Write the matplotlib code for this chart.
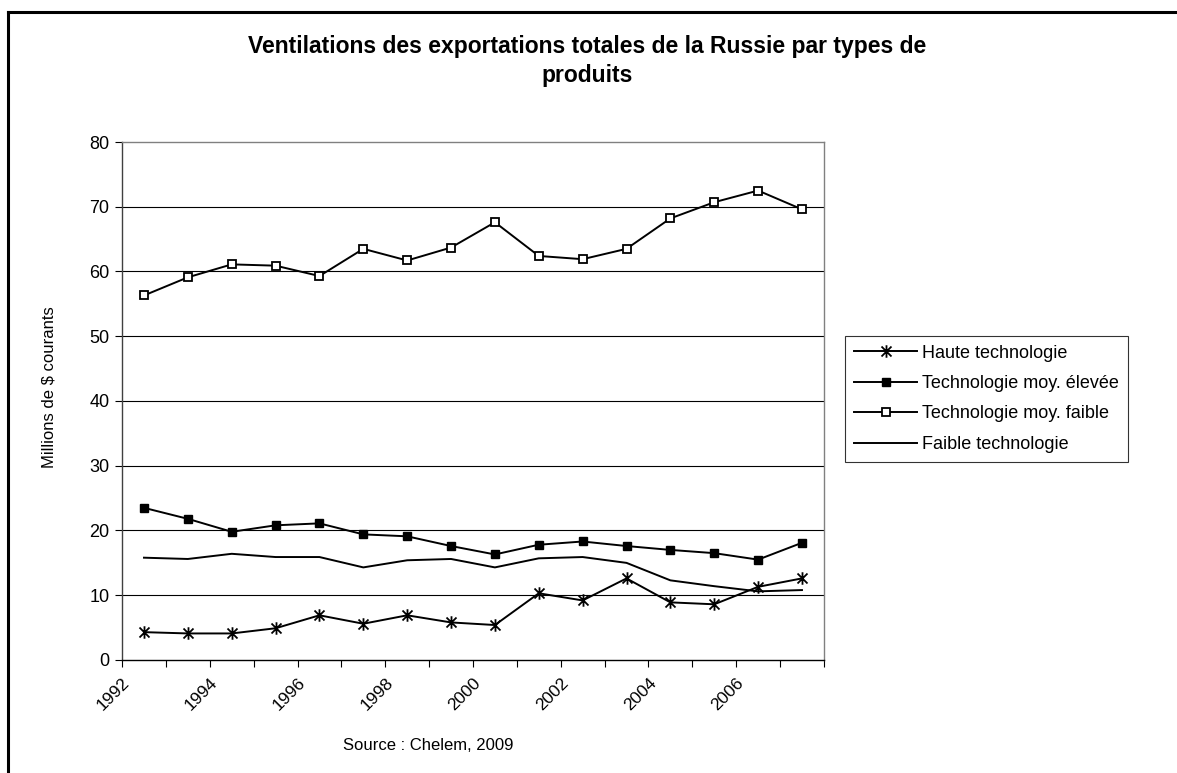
import numpy as np
import matplotlib
matplotlib.use('Agg')
import matplotlib.pyplot as plt
from matplotlib.path import Path
from matplotlib.lines import Line2D

plt.rcParams['font.family'] = ['Liberation Sans', 'DejaVu Sans']

years = list(range(1992, 2008))
haute = [4.3, 4.1, 4.1, 4.9, 6.9, 5.6, 6.9, 5.8, 5.4, 10.3, 9.2, 12.6, 8.9, 8.6, 11.3, 12.6]
moy_elevee = [23.5, 21.8, 19.8, 20.8, 21.1, 19.4, 19.1, 17.6, 16.3, 17.8, 18.3, 17.6, 17.0, 16.5, 15.5, 18.1]
moy_faible = [56.3, 59.1, 61.1, 60.9, 59.3, 63.5, 61.7, 63.7, 67.6, 62.4, 61.9, 63.5, 68.2, 70.7, 72.5, 69.6]
faible = [15.8, 15.6, 16.4, 15.9, 15.9, 14.3, 15.4, 15.6, 14.3, 15.7, 15.9, 15.0, 12.3, 11.4, 10.6, 10.8]

series_names = ['Haute technologie', 'Technologie moy. élevée',
                'Technologie moy. faible', 'Faible technologie']

# excel style asterisk: an X with a vertical bar
star = Path([(-1, -1), (1, 1), (-1, 1), (1, -1), (0, -1.25), (0, 1.25)],
            [Path.MOVETO, Path.LINETO, Path.MOVETO, Path.LINETO, Path.MOVETO, Path.LINETO])

fig = plt.figure(figsize=(11.77, 7.73), dpi=100)
ax = fig.add_axes([0.1037, 0.1462, 0.5963, 0.6701])

x = np.arange(len(years)) + 0.5
ax.plot(x, haute, color='black', lw=1.4, marker=star, ms=9, mew=1.3, label=series_names[0])
ax.plot(x, moy_elevee, color='black', lw=1.4, marker='s', ms=5.5, mfc='black', label=series_names[1])
ax.plot(x, moy_faible, color='black', lw=1.4, marker='s', ms=5.5, mfc='white', mew=1.3, label=series_names[2])
ax.plot(x, faible, color='black', lw=1.4, label=series_names[3])

ax.set_xlim(0, len(years))
ax.set_ylim(0, 80)
ax.set_yticks(range(0, 81, 10))
ax.tick_params(axis='y', labelsize=13, length=5, direction='out', pad=4)
ticks = np.arange(len(years) + 1)
labels = [str(years[i]) if i % 2 == 0 and i < len(years) else '' for i in ticks]
ax.set_xticks(ticks)
ax.set_xticklabels(labels, rotation=45, ha='right', va='top', rotation_mode='anchor', fontsize=12.5)
ax.tick_params(axis='x', length=5, direction='out', pad=6)

for yv in range(10, 80, 10):
    ax.axhline(yv, color='black', lw=0.8, zorder=0)
ax.spines['top'].set_color('#808080')
ax.spines['right'].set_color('#808080')
ax.spines['left'].set_color('#404040')
for s in ax.spines.values():
    s.set_linewidth(1.0)

ax.set_ylabel('Millions de $ courants', fontsize=12)
ax.yaxis.set_label_coords(-0.093, 0.527)

fig.text(0.499, 1 - 53 / 773, 'Ventilations des exportations totales de la Russie par types de',
         ha='center', va='baseline', fontsize=16.5, fontweight='bold')
fig.text(0.499, 1 - 82 / 773, 'produits', ha='center', va='baseline', fontsize=16.5, fontweight='bold')
fig.text(0.364, 0.035, 'Source : Chelem, 2009', ha='center', va='center', fontsize=12)

leg = ax.legend(loc='upper left', bbox_to_anchor=(1.03, 0.626), fontsize=13,
                frameon=True, fancybox=False, edgecolor='black', borderpad=0.5,
                labelspacing=0.74, handlelength=3.5, handletextpad=0.25, borderaxespad=0)
leg.get_frame().set_linewidth(0.8)

# outer chart border (top and left edges)
fig.add_artist(Line2D([8 / 1177, 1], [1 - 12 / 773, 1 - 12 / 773], color='black', lw=2.2, transform=fig.transFigure))
fig.add_artist(Line2D([8 / 1177, 8 / 1177], [0, 1 - 12 / 773], color='black', lw=2.2, transform=fig.transFigure))

fig.savefig('out.png', dpi=100)
